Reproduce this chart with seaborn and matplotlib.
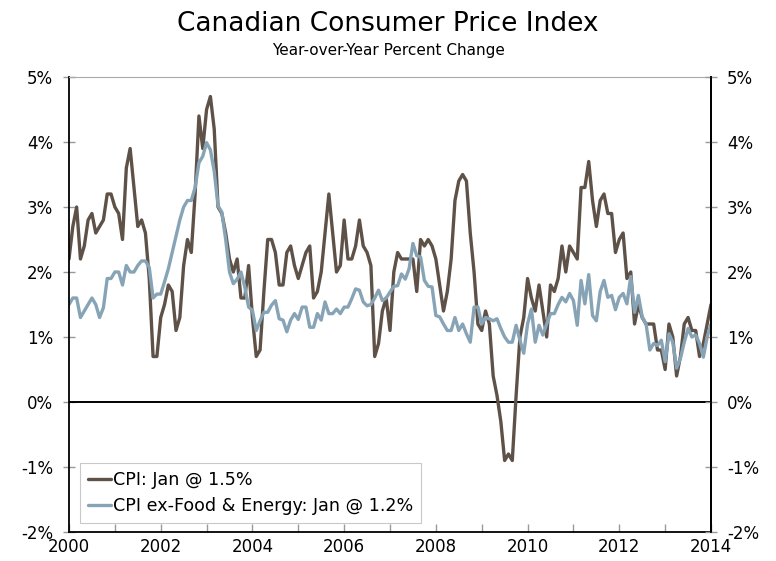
import numpy as np
import pandas as pd
import matplotlib
matplotlib.use("Agg")
import matplotlib.pyplot as plt
import seaborn as sns
from matplotlib.ticker import MultipleLocator

# Monthly data, Jan 2000 .. Jan 2014 (year-over-year % change)
start_year = 2000
cpi = [
    2.2, 2.7, 3.0, 2.2, 2.4, 2.8, 2.9, 2.6, 2.7, 2.8, 3.2, 3.2,   # 2000
    3.0, 2.9, 2.5, 3.6, 3.9, 3.3, 2.7, 2.8, 2.6, 1.9, 0.7, 0.7,   # 2001
    1.3, 1.5, 1.8, 1.7, 1.1, 1.3, 2.1, 2.5, 2.3, 3.2, 4.4, 3.9,   # 2002
    4.5, 4.7, 4.2, 3.0, 2.9, 2.6, 2.2, 2.0, 2.2, 1.6, 1.6, 2.1,   # 2003
    1.3, 0.7, 0.8, 1.7, 2.5, 2.5, 2.3, 1.8, 1.8, 2.3, 2.4, 2.1,   # 2004
    1.9, 2.1, 2.3, 2.4, 1.6, 1.7, 2.0, 2.6, 3.2, 2.6, 2.0, 2.1,   # 2005
    2.8, 2.2, 2.2, 2.4, 2.8, 2.4, 2.3, 2.1, 0.7, 0.9, 1.4, 1.6,   # 2006
    1.1, 2.0, 2.3, 2.2, 2.2, 2.2, 2.2, 1.7, 2.5, 2.4, 2.5, 2.4,   # 2007
    2.2, 1.8, 1.4, 1.7, 2.2, 3.1, 3.4, 3.5, 3.4, 2.6, 2.0, 1.2,   # 2008
    1.1, 1.4, 1.2, 0.4, 0.1, -0.3, -0.9, -0.8, -0.9, 0.1, 1.0, 1.3,  # 2009
    1.9, 1.6, 1.4, 1.8, 1.4, 1.0, 1.8, 1.7, 1.9, 2.4, 2.0, 2.4,   # 2010
    2.3, 2.2, 3.3, 3.3, 3.7, 3.1, 2.7, 3.1, 3.2, 2.9, 2.9, 2.3,   # 2011
    2.5, 2.6, 1.9, 2.0, 1.2, 1.5, 1.3, 1.2, 1.2, 1.2, 0.8, 0.8,   # 2012
    0.5, 1.2, 1.0, 0.4, 0.7, 1.2, 1.3, 1.1, 1.1, 0.7, 0.9, 1.2,   # 2013
    1.5,                                                          # 2014
]
core = [
    1.5, 1.6, 1.6, 1.3, 1.4, 1.5, 1.6, 1.5, 1.3, 1.45, 1.9, 1.9,      # 2000
    2.0, 2.0, 1.8, 2.1, 2.0, 2.0, 2.1, 2.17, 2.17, 2.07, 1.6, 1.66,   # 2001
    1.66, 1.85, 2.05, 2.3, 2.55, 2.8, 3.0, 3.1, 3.1, 3.3, 3.68, 3.78, # 2002
    3.99, 3.88, 3.55, 3.02, 2.92, 2.5, 2.0, 1.82, 1.89, 2.0, 1.77, 1.46,  # 2003
    1.41, 1.1, 1.25, 1.38, 1.38, 1.49, 1.56, 1.28, 1.26, 1.08, 1.26, 1.36,  # 2004
    1.27, 1.46, 1.46, 1.15, 1.15, 1.36, 1.26, 1.54, 1.36, 1.36, 1.43, 1.36,  # 2005
    1.46, 1.46, 1.59, 1.74, 1.72, 1.54, 1.48, 1.5, 1.6, 1.72, 1.56, 1.6,  # 2006
    1.69, 1.78, 1.79, 1.97, 1.89, 2.05, 2.44, 2.25, 2.23, 1.87, 1.78, 1.77,  # 2007
    1.33, 1.31, 1.2, 1.1, 1.1, 1.3, 1.1, 1.2, 1.05, 0.92, 1.46, 1.46,  # 2008
    1.2, 1.3, 1.28, 1.25, 1.28, 1.13, 1.0, 0.92, 0.92, 1.18, 0.95, 0.75,  # 2009
    1.2, 1.43, 0.92, 1.18, 1.03, 1.2, 1.36, 1.36, 1.5, 1.61, 1.54, 1.67,  # 2010
    1.56, 1.18, 1.87, 1.51, 1.96, 1.33, 1.25, 1.7, 1.87, 1.61, 1.64, 1.42,  # 2011
    1.61, 1.67, 1.51, 1.93, 1.38, 1.64, 1.31, 1.2, 0.8, 0.9, 0.87, 0.95,  # 2012
    0.62, 1.05, 0.92, 0.52, 0.67, 0.92, 1.13, 1.0, 1.03, 0.9, 0.69, 1.0,  # 2013
    1.2,                                                                  # 2014
]
labels = ["CPI: Jan @ 1.5%", "CPI ex-Food & Energy: Jan @ 1.2%"]
y_ticks = [-2, -1, 0, 1, 2, 3, 4, 5]
y_ticklabels = ["-2%", "-1%", "0%", "1%", "2%", "3%", "4%", "5%"]
x_major = [2000, 2002, 2004, 2006, 2008, 2010, 2012, 2014]

years = start_year + np.arange(len(cpi)) / 12.0
df = pd.DataFrame({
    "date": np.concatenate([years, years]),
    "value": np.concatenate([cpi, core]),
    "series": [labels[0]] * len(cpi) + [labels[1]] * len(core),
})

sns.set_theme(style="white")
plt.rcParams["font.family"] = ["DejaVu Sans"]
plt.rcParams["text.color"] = "black"
plt.rcParams["xtick.labelcolor"] = "black"
plt.rcParams["ytick.labelcolor"] = "black"

fig = plt.figure(figsize=(7.76, 5.61), dpi=100)
ax = fig.add_axes([69 / 776, 1 - 532 / 561, (711 - 69) / 776, (532 - 77) / 561])

palette = {labels[0]: "#5e5147", labels[1]: "#87a4b6"}
sns.lineplot(data=df, x="date", y="value", hue="series", hue_order=labels,
             palette=palette, linewidth=2.4, ax=ax, legend=True)

ax.axhline(0, color="black", linewidth=1.4, zorder=1)
ax.set_xlim(2000, 2014)
ax.set_ylim(-2, 5)
ax.set_xlabel("")
ax.set_ylabel("")

ax.set_yticks(y_ticks)
ax.set_yticklabels(y_ticklabels, fontsize=12, color="black")
ax.set_xticks(x_major)
ax.set_xticklabels([str(x) for x in x_major], fontsize=12, color="black")
ax.xaxis.set_minor_locator(MultipleLocator(1))

ax.tick_params(axis="y", which="major", direction="inout", length=9,
               color="#999999", width=1, pad=7, left=True)
ax.tick_params(axis="x", which="both", direction="in", length=6,
               color="#999999", width=1, pad=4, bottom=True)

for side in ["left", "bottom", "right"]:
    ax.spines[side].set_color("black")
    ax.spines[side].set_linewidth(1.3)
ax.spines["top"].set_color("#aaaaaa")
ax.spines["top"].set_linewidth(0.8)

ax2 = ax.twinx()
ax2.set_ylim(-2, 5)
ax2.set_yticks(y_ticks)
ax2.set_yticklabels(y_ticklabels, fontsize=12, color="black")
ax2.tick_params(axis="y", which="major", direction="inout", length=9,
                color="#999999", width=1, pad=7, right=True)
ax2.grid(False)
for side in ["left", "bottom", "top"]:
    ax2.spines[side].set_visible(False)
ax2.spines["right"].set_color("black")
ax2.spines["right"].set_linewidth(1.3)

leg = ax.legend(loc="lower left", bbox_to_anchor=(11 / 642, 9 / 455),
                borderaxespad=0, fontsize=12.6,
                frameon=True, fancybox=False, handlelength=1.3,
                handletextpad=0.15, borderpad=0.45, labelspacing=0.45)
leg.get_frame().set_edgecolor("#bbbbbb")
leg.get_frame().set_linewidth(0.8)
for text in leg.get_texts():
    text.set_color("black")
for line in leg.get_lines():
    line.set_linewidth(2.4)

fig.text(0.5, 1 - 24 / 561, "Canadian Consumer Price Index", ha="center",
         va="center", fontsize=19, color="black")
fig.text(0.5, 1 - 51 / 561, "Year-over-Year Percent Change", ha="center",
         va="center", fontsize=11, color="black")

fig.savefig("out.png", dpi=100)
